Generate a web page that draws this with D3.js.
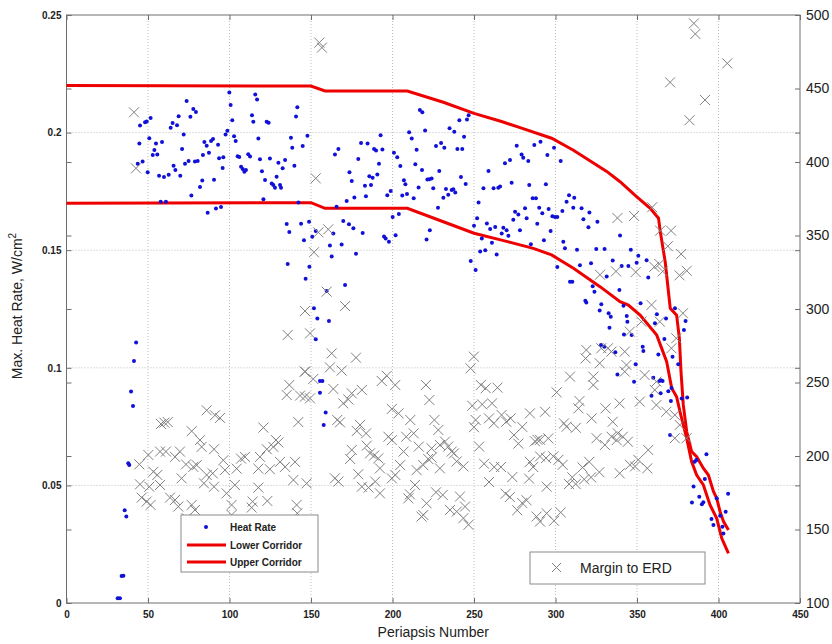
<!DOCTYPE html>
<html><head><meta charset="utf-8">
<script src="https://cdn.jsdelivr.net/npm/d3@7"></script>
<style>body{margin:0;background:#fff}svg{display:block}text{font-family:"Liberation Sans",Arial,Helvetica,sans-serif}</style>
</head><body><svg id="c" width="832" height="644"></svg>
<script>
// ---- data ----
const xTicks=[0,50,100,150,200,250,300,350,400,450];
const leftTicks=[0,0.05,0.1,0.15,0.2,0.25];
const leftTickLabels=["0","0.05","0.1","0.15","0.2","0.25"];
const rightTicks=[100,150,200,250,300,350,400,450,500];

const heatX=[31.4,32.8,33.8,34.9,35.7,36.7,37.9,38.5,39.6,40.8,41.4,42.7,
45.1,48.2,49.2,51.6,44.7,43.7,46.7,49.8,50.8,52.9,53.9,54.9,55.7,58.6,56.8,59.8,62.7,57.8,61.0,63.9,65.1,67.8,68.8,71.9,70.9,65.7,66.8,69.8,73.7,76.0,77.8,79.4,72.7,74.9,78.8,80.5,76.6,81.9,83.3,83.7,84.6,86.0,87.4,88.7,89.9,93.0,93.6,96.2,95.8,90.5,86.6,91.7,94.8,99.9,100.7,101.7,98.7,97.6,102.8,103.8,105.0,106.0,107.1,108.1,109.1,110.1,111.5,112.6,115.8,116.9,113.8,114.6,117.7,118.7,119.9,121.8,120.8,122.8,124.0,124.8,125.9,126.9,127.9,128.9,130.0,131.0,131.6,132.6,134.1,137.7,138.5,139.8,140.8,141.6,144.9,147.8,135.1,136.7,135.7,143.9,145.7,146.7,148.8,149.0,142.3,
150.8,152.9,151.8,159.6,161.6,162.7,163.7,165.7,168.8,169.8,170.9,173.3,176.0,177.6,181.7,164.7,166.8,171.9,173.6,175.0,176.6,179.0,180.7,183.1,183.7,184.7,185.8,186.8,187.8,188.7,189.9,190.7,191.7,192.7,193.8,194.8,195.8,197.8,196.8,198.9,200.1,200.9,202.9,203.9,201.9,204.8,206.0,207.0,207.9,208.9,210.2,211.8,213.0,214.0,214.8,216.0,216.8,218.3,218.1,220.0,221.4,222.6,224.0,225.0,222.9,220.9,226.7,227.9,228.7,229.8,231.2,231.8,232.8,234.2,235.0,236.3,237.3,237.9,238.5,239.8,241.0,242.0,242.8,243.9,244.9,245.7,246.7,248.0,251.0,250.0,251.9,252.8,254.8,255.8,253.8,256.9,257.9,258.9,259.9,261.0,262.0,263.0,263.9,264.9,266.0,267.0,268.0,269.0,270.0,271.1,272.1,273.1,274.1,275.2,276.2,277.2,278.2,279.2,280.2,281.3,282.3,283.3,283.9,284.9,286.0,287.0,288.0,288.8,290.0,290.8,291.9,292.9,294.1,295.0,295.8,
299.1,303.2,298.1,299.7,301.1,304.2,306.8,308.3,311.5,310.9,316.0,317.1,320.8,320.2,325.7,297.0,304.8,305.8,313.2,325.0,330.1,339.6,346.2,301.1,315.0,308.9,310.3,321.8,331.4,335.1,340.6,344.7,349.8,350.8,355.9,356.9,322.8,323.9,318.3,318.9,328.1,327.1,332.6,339.2,341.7,352.2,362.2,373.3,
333.9,333.1,327.9,330.0,336.7,343.7,344.1,342.0,346.7,338.0,348.2,349.2,353.5,353.9,361.0,367.8,366.8,363.1,360.0,363.7,364.7,365.7,358.9,364.5,369.2,371.2,370.8,371.8,375.3,377.4,380.8,378.8,379.8,370.3,385.4,386.4,392.6,391.6,384.7,383.7,388.2,390.7,389.8,395.7,396.9,398.9,401.0,402.4,403.0,404.4,405.9,
153.9,161.0,152.9,155.5,157.0,155.5,159.0,157.8];
const heatY=[0.002,0.002,0.0115,0.0116,0.0394,0.0368,0.0594,0.0587,0.0899,0.0838,0.1029,0.1108,
0.203,0.2044,0.2047,0.2062,0.1954,0.1868,0.1877,0.1831,0.1976,0.1905,0.1926,0.1954,0.1907,0.196,0.1817,0.1811,0.1821,0.1706,0.1706,0.2021,0.2041,0.2031,0.207,0.1992,0.193,0.1859,0.1841,0.1817,0.2134,0.2067,0.21,0.2088,0.1868,0.1879,0.1877,0.1879,0.1733,0.1769,0.1796,0.1905,0.196,0.1944,0.1914,0.1964,0.1973,0.1948,0.1891,0.1895,0.1849,0.18,0.1659,0.1677,0.1684,0.217,0.2117,0.2053,0.2008,0.1992,0.1985,0.1964,0.1899,0.1896,0.1855,0.1845,0.1834,0.1841,0.1908,0.1898,0.2162,0.2141,0.2074,0.2046,0.1975,0.1887,0.1836,0.1798,0.1717,0.2046,0.2042,0.189,0.1784,0.1777,0.1765,0.1812,0.1872,0.1777,0.1765,0.1848,0.1883,0.1978,0.1936,0.1859,0.2068,0.2108,0.1943,0.1987,0.1611,0.1577,0.1441,0.1612,0.1542,0.1379,0.1621,0.143,0.1703,
0.1557,0.1582,0.1253,0.1326,0.152,0.1473,0.1571,0.1685,0.1524,0.1624,0.1352,0.161,0.1593,0.1485,0.1573,0.1907,0.193,0.1709,0.1831,0.1794,0.1724,0.1888,0.1956,0.1774,0.1729,0.1954,0.1814,0.1777,0.1808,0.193,0.1924,0.1822,0.1868,0.1989,0.1928,0.1558,0.155,0.1536,0.1734,0.1752,0.1641,0.1914,0.1895,0.1654,0.1564,0.1858,0.1733,0.1797,0.178,0.1739,0.2002,0.1975,0.1721,0.1865,0.1927,0.1767,0.2096,0.2086,0.1841,0.2009,0.1801,0.1802,0.1805,0.1763,0.1585,0.1545,0.1943,0.1681,0.1837,0.1956,0.1723,0.1936,0.176,0.1736,0.2018,0.1756,0.1759,0.2004,0.1745,0.193,0.2052,0.1811,0.193,0.1982,0.1781,0.2056,0.2074,0.1454,0.1416,0.1604,0.1636,0.1703,0.155,0.1763,0.1494,0.15,0.1614,0.1837,0.159,0.1532,0.1763,0.1599,0.1482,0.1766,0.1771,0.1571,0.1595,0.187,0.1585,0.1561,0.1884,0.1787,0.1629,0.1664,0.1944,0.1652,0.1585,0.1907,0.1893,0.1678,0.1636,0.1879,0.1777,0.1525,0.1721,0.1947,0.1721,0.1612,0.1681,0.1961,0.1657,0.1542,0.178,0.1905,0.1675,
0.1936,0.1879,0.1644,0.1641,0.1641,0.1667,0.1706,0.1734,0.1723,0.168,0.1678,0.1632,0.166,0.1598,0.1621,0.1582,0.1536,0.1508,0.1502,0.1505,0.1505,0.1562,0.1502,0.1429,0.1436,0.1366,0.1366,0.1444,0.1388,0.1456,0.1433,0.1433,0.1447,0.1476,0.1457,0.1384,0.1347,0.1323,0.1285,0.1278,0.127,0.1244,0.1232,0.1331,0.1264,0.1274,0.1228,0.1253,
0.1217,0.117,0.1097,0.109,0.1066,0.122,0.1196,0.1142,0.1139,0.0972,0.0941,0.1015,0.109,0.1071,0.1189,0.121,0.1122,0.1057,0.0958,0.0944,0.0947,0.0944,0.0881,0.0892,0.09,0.0914,0.0859,0.1047,0.1015,0.087,0.0874,0.1161,0.1199,0.0714,0.0601,0.0608,0.0632,0.0527,0.0495,0.0427,0.0452,0.0428,0.042,0.0357,0.0332,0.0445,0.0371,0.0324,0.0296,0.0388,0.0464,
0.121,0.1199,0.1121,0.0944,0.0944,0.0894,0.081,0.0757];

const erdX=[41.4,42.6,146.3,155.1,156.7,152.9,154.5,160.6,151.8,159.6,
135.7,146.3,136.7,135.1,143.3,142.2,60.0,58.0,62.1,86.0,91.1,94.2,76.8,81.9,82.9,90.5,120.8,128.5,130.0,126.9,122.9,118.7,107.1,109.5,96.2,104.4,117.7,124.8,131.0,134.1,140.2,50.2,57.4,61.0,66.6,69.6,44.7,53.3,55.7,73.3,77.8,79.9,86.0,89.7,97.2,45.1,50.8,57.4,70.6,84.3,90.5,98.2,103.3,117.7,139.2,147.3,46.1,49.2,51.6,63.5,66.6,68.6,76.8,78.8,73.7,101.3,101.3,114.2,113.6,123.2,141.2,141.6,116.7,
170.9,149.4,162.7,177.6,161.6,168.8,146.3,151.4,163.7,146.3,149.4,175.0,181.2,169.8,172.9,166.1,167.8,180.1,178.1,183.8,175.0,174.0,184.2,186.2,188.7,191.3,192.3,179.0,164.7,166.8,181.2,185.3,189.4,192.3,193.4,196.5,201.7,199.6,203.7,197.5,199.6,208.4,206.8,210.9,213.0,216.1,204.7,199.6,201.7,214.8,213.8,210.7,209.7,218.9,221.9,224.0,220.9,218.9,217.8,220.5,222.6,225.7,228.1,229.1,224.0,226.7,230.8,229.1,232.2,234.2,236.3,237.7,235.3,239.4,241.4,244.5,243.5,246.6,239.4,243.5,249.9,247.9,254.2,257.2,264.4,248.9,255.0,261.1,251.0,250.0,259.2,262.2,266.9,269.8,272.5,253.2,274.5,277.2,279.6,256.2,262.4,266.5,259.2,273.5,269.4,272.0,276.5,279.6,282.2,284.3,287.4,288.9,284.3,286.3,283.8,288.4,290.5,293.6,295.6,294.6,294.6,
290.5,300.7,290.5,294.2,298.7,301.8,304.4,305.2,306.8,312.5,308.9,314.7,314.1,322.2,323.2,323.2,318.9,318.5,328.1,327.1,332.2,342.5,343.5,334.3,352.7,345.6,342.5,354.7,361.9,360.9,371.1,374.1,378.2,364.0,351.7,361.9,368.0,373.2,376.2,373.2,380.4,356.9,350.8,348.8,345.7,356.3,339.4,337.5,334.4,330.3,325.2,344.4,341.3,335.1,330.7,339.3,338.2,320.7,316.6,317.6,326.9,321.8,310.3,312.4,308.3,299.1,303.2,
384.9,385.8,405.4,370.3,391.7,382.2,359.3,338.0,348.2,364.2,370.9,368.9,377.1,327.3,337.1,349.2,360.6,363.7,365.8,376.1,380.5,358.9];
const erdY=[433.8,395.7,298.6,481.2,477.8,388.9,352.1,354.2,338.6,311.8,
282.3,257.4,248.3,241.5,241.1,223.1,222.7,221.8,223.1,231.1,227.7,225.9,216.9,210.8,206.2,204.6,219.3,210.8,209.2,206.2,204.6,199.4,198.2,199.4,197.1,191.4,191.4,191.0,196.0,192.6,196.0,200.7,203.0,203.0,199.4,203.0,194.3,189.3,187.1,194.3,192.6,193.8,187.1,188.2,190.4,180.7,179.1,180.3,184.8,181.4,179.1,174.6,180.3,178.5,183.7,181.4,171.7,169.0,166.7,171.7,170.1,165.6,166.7,163.3,157.7,166.7,159.9,169.0,164.9,169.4,166.7,161.0,156.5,
302.0,283.4,269.8,266.9,260.3,258.1,257.4,252.4,245.6,240.4,239.2,242.6,244.9,235.8,238.5,224.5,222.9,221.1,217.0,215.4,204.1,198.0,207.0,201.8,200.3,198.4,191.6,187.6,184.8,182.6,179.1,178.5,182.6,174.6,251.0,254.6,248.3,232.0,229.0,213.1,210.8,213.1,203.0,224.5,215.4,206.4,193.8,184.8,187.1,190.4,180.3,173.9,171.2,193.8,198.0,198.9,167.8,159.9,158.8,248.3,238.1,224.5,217.7,207.5,205.2,175.3,173.5,191.6,209.8,206.4,203.0,201.8,163.3,162.2,172.4,165.6,157.7,153.2,196.3,192.9,267.6,259.6,248.3,246.1,246.5,234.2,235.1,235.8,224.5,219.6,225.6,222.2,227.9,223.3,225.6,206.4,214.2,208.4,219.8,194.7,192.5,192.5,182.3,185.7,174.3,172.1,163.1,168.0,169.9,229.0,210.0,211.0,196.0,192.5,184.6,158.8,155.4,230.1,212.0,179.1,161.0,
211.0,243.3,199.7,198.6,199.7,197.4,194.0,222.2,219.9,219.2,254.0,237.4,232.4,225.6,254.0,248.3,272.1,266.4,273.3,263.1,273.3,271.0,261.9,271.0,291.4,284.6,257.4,255.1,250.6,244.9,273.3,280.1,297.1,291.4,237.0,234.7,230.1,227.9,221.1,212.1,212.1,204.1,197.4,192.9,194.0,191.6,188.2,210.8,213.1,207.5,212.1,209.7,213.1,223.3,232.4,235.8,215.4,196.0,192.2,184.1,189.0,185.5,185.5,180.9,180.9,155.9,161.6,
494.3,487.1,467.1,454.2,442.2,428.4,369.2,361.9,363.3,353.3,353.3,342.7,337.4,323.3,325.6,325.1,328.7,330.6,325.6,322.9,326.0,302.8];

const upperX=[0,150,158.6,209.1,231.2,250,266.9,279.2,297.6,311,331.4,339.6,349.9,358.1,363.2,364.3,367.3,370.4,374.3,376.0,377.0,378.4,380.5,383.5,386.6,390.7,393.8,396.9,398.9,401.0,403.1,406.1];
const upperY=[0.22,0.2198,0.2177,0.2177,0.2129,0.2082,0.2047,0.2019,0.1976,0.1925,0.1835,0.1791,0.1727,0.1678,0.1636,0.1578,0.1451,0.1253,0.1224,0.1125,0.0983,0.0842,0.0728,0.0644,0.0622,0.0573,0.0544,0.0474,0.0445,0.0388,0.0346,0.031];
const lowerX=[0,150,158.6,209.1,231.2,250,266.9,286.4,297.6,311,327.3,339.6,344.7,351.9,362.1,368.2,371.3,374.3,376.4,380.5,383.5,386.6,390.7,394.8,398.9,402.0,406.1];
const lowerY=[0.17,0.1702,0.1678,0.1678,0.1621,0.1572,0.1543,0.1508,0.148,0.1423,0.1345,0.1281,0.1267,0.1224,0.1139,0.1026,0.0913,0.0877,0.0813,0.07,0.0601,0.0544,0.0502,0.0417,0.036,0.0275,0.0211];

// ---- chart ----
const svg=d3.select("#c");
const L=66.5,R=800,T=15,B=603;
const x=d3.scaleLinear().domain([0,450]).range([L,R]);
const yL=d3.scaleLinear().domain([0,0.25]).range([B,T]);
const yR=d3.scaleLinear().domain([100,500]).range([B,T]);
const axisCol="#6e6e6e";

// grid
const g=svg.append("g");
g.selectAll(".gx").data(xTicks.slice(1,-1)).enter().append("line")
 .attr("x1",d=>x(d)).attr("x2",d=>x(d)).attr("y1",T).attr("y2",B)
 .attr("stroke","#bdbdbd").attr("stroke-width",1).attr("stroke-dasharray","1,2");
g.selectAll(".gy").data(leftTicks.slice(1,-1)).enter().append("line")
 .attr("x1",L).attr("x2",R).attr("y1",d=>yL(d)).attr("y2",d=>yL(d))
 .attr("stroke","#bdbdbd").attr("stroke-width",1).attr("stroke-dasharray","1,2");

// axes (inward ticks)
const fmtL=d=>leftTickLabels[leftTicks.indexOf(d)];
const ax=svg.append("g").attr("transform",`translate(0,${B})`)
 .call(d3.axisBottom(x).tickValues(xTicks).tickSize(-5).tickPadding(6).tickFormat(d3.format("d")));
const axT=svg.append("g").attr("transform",`translate(0,${T})`)
 .call(d3.axisTop(x).tickValues(xTicks).tickSize(-5).tickFormat(""));
const ayL=svg.append("g").attr("transform",`translate(${L},0)`)
 .call(d3.axisLeft(yL).tickValues(leftTicks).tickSize(-5).tickPadding(5).tickFormat(fmtL));
const ayL2=svg.append("g").attr("transform",`translate(${L},0)`)
 .call(d3.axisLeft(yR).tickValues(rightTicks).tickSize(-5).tickFormat(""));
const ayR=svg.append("g").attr("transform",`translate(${R},0)`)
 .call(d3.axisRight(yR).tickValues(rightTicks).tickSize(-5).tickPadding(6).tickFormat(d3.format("d")));
const ayR2=svg.append("g").attr("transform",`translate(${R},0)`)
 .call(d3.axisRight(yL).tickValues(leftTicks).tickSize(-5).tickFormat(""));
[ax,axT,ayL,ayL2,ayR,ayR2].forEach(a=>{a.select(".domain").remove();a.selectAll("line").attr("stroke",axisCol);});
[ax,ayL].forEach(a=>a.selectAll("text").attr("font-size",10).attr("font-weight","bold").attr("fill","#222"));
ax.selectAll("text").attr("dy","0.9em");
ayR.selectAll("text").attr("font-size",14).attr("fill","#222").attr("dx","0");
svg.append("rect").attr("x",L).attr("y",T).attr("width",R-L).attr("height",B-T)
 .attr("fill","none").attr("stroke",axisCol).attr("stroke-width",1);

// corridors
const line=d3.line().x(d=>x(d[0])).y(d=>yL(d[1]));
svg.append("path").datum(upperX.map((v,i)=>[v,upperY[i]])).attr("d",line)
 .attr("fill","none").attr("stroke","#ee0000").attr("stroke-width",3);
svg.append("path").datum(lowerX.map((v,i)=>[v,lowerY[i]])).attr("d",line)
 .attr("fill","none").attr("stroke","#ee0000").attr("stroke-width",3);

// heat rate dots
svg.append("g").selectAll("circle").data(heatX.map((v,i)=>[v,heatY[i]])).enter().append("circle")
 .attr("cx",d=>x(d[0])).attr("cy",d=>yL(d[1])).attr("r",2).attr("fill","#1010d8");

// ERD crosses
const s=5;
const xg=svg.append("g").attr("stroke","#808080").attr("stroke-width",1).attr("fill","none");
xg.selectAll("path").data(erdX.map((v,i)=>[v,erdY[i]])).enter().append("path")
 .attr("d",d=>{const cx=x(d[0]),cy=yR(d[1]);return `M${cx-s},${cy-s}L${cx+s},${cy+s}M${cx-s},${cy+s}L${cx+s},${cy-s}`;});

// labels
svg.append("text").attr("x",(L+R)/2).attr("y",637).attr("text-anchor","middle").attr("font-size",14).attr("fill","#222").text("Periapsis Number");
const yl=svg.append("text").attr("transform","translate(22,306) rotate(-90)").attr("text-anchor","middle").attr("font-size",14).attr("fill","#222");
yl.append("tspan").text("Max. Heat Rate, W/cm");
yl.append("tspan").attr("dy",-6).attr("font-size",10).text("2");

// legend 1
const lg=svg.append("g");
lg.append("rect").attr("x",181).attr("y",515).attr("width",137).attr("height",57).attr("fill","#fff").attr("stroke","#8a8a8a");
lg.append("circle").attr("cx",206).attr("cy",527).attr("r",2).attr("fill","#1010d8");
lg.append("line").attr("x1",187).attr("x2",226).attr("y1",545).attr("y2",545).attr("stroke","#ee0000").attr("stroke-width",3);
lg.append("line").attr("x1",187).attr("x2",226).attr("y1",562).attr("y2",562).attr("stroke","#ee0000").attr("stroke-width",3);
const lt=["Heat Rate","Lower Corridor","Upper Corridor"];
lt.forEach((t,i)=>lg.append("text").attr("x",230).attr("y",[531,549,566][i]).attr("font-size",10).attr("font-weight","bold").attr("fill","#222").text(t));

// legend 2
const lg2=svg.append("g");
lg2.append("rect").attr("x",530).attr("y",552).attr("width",175).attr("height",32).attr("fill","#fff").attr("stroke","#8a8a8a");
lg2.append("path").attr("d","M552,563L561,572M552,572L561,563").attr("stroke","#808080").attr("stroke-width",1);
lg2.append("text").attr("x",580).attr("y",573).attr("font-size",14).attr("fill","#222").text("Margin to ERD");
</script></body></html>
